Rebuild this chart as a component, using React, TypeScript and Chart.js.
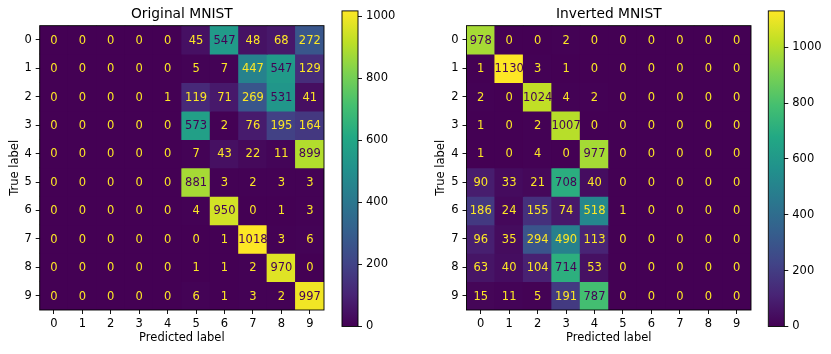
import React, { useEffect, useRef } from 'react';
import { Chart, registerables } from 'chart.js';

Chart.register(...registerables);

// ---------------- data ----------------
const CLASS_LABELS = ['0', '1', '2', '3', '4', '5', '6', '7', '8', '9'];

const ORIGINAL_COUNTS: number[][] = [
  [0, 0, 0, 0, 0, 45, 547, 48, 68, 272],
  [0, 0, 0, 0, 0, 5, 7, 447, 547, 129],
  [0, 0, 0, 0, 1, 119, 71, 269, 531, 41],
  [0, 0, 0, 0, 0, 573, 2, 76, 195, 164],
  [0, 0, 0, 0, 0, 7, 43, 22, 11, 899],
  [0, 0, 0, 0, 0, 881, 3, 2, 3, 3],
  [0, 0, 0, 0, 0, 4, 950, 0, 1, 3],
  [0, 0, 0, 0, 0, 0, 1, 1018, 3, 6],
  [0, 0, 0, 0, 0, 1, 1, 2, 970, 0],
  [0, 0, 0, 0, 0, 6, 1, 3, 2, 997],
];

const INVERTED_COUNTS: number[][] = [
  [978, 0, 0, 2, 0, 0, 0, 0, 0, 0],
  [1, 1130, 3, 1, 0, 0, 0, 0, 0, 0],
  [2, 0, 1024, 4, 2, 0, 0, 0, 0, 0],
  [1, 0, 2, 1007, 0, 0, 0, 0, 0, 0],
  [1, 0, 4, 0, 977, 0, 0, 0, 0, 0],
  [90, 33, 21, 708, 40, 0, 0, 0, 0, 0],
  [186, 24, 155, 74, 518, 1, 0, 0, 0, 0],
  [96, 35, 294, 490, 113, 0, 0, 0, 0, 0],
  [63, 40, 104, 714, 53, 0, 0, 0, 0, 0],
  [15, 11, 5, 191, 787, 0, 0, 0, 0, 0],
];

const COLORBAR_TICKS = [0, 200, 400, 600, 800, 1000];

// ---------------- style helpers ----------------
const FONT = 'DejaVu Sans';
const TICK_SIZE = 11.5;
const TITLE_SIZE = 13.8;
const VIRIDIS_STOPS = [
  '#440154', '#482475', '#414487', '#355f8d', '#2a788e', '#21918c',
  '#22a884', '#44bf70', '#7ad151', '#bddf26', '#fde725',
];

function hexToRgb(h: string) {
  return [parseInt(h.slice(1, 3), 16), parseInt(h.slice(3, 5), 16), parseInt(h.slice(5, 7), 16)];
}

function viridis(t: number): string {
  const x = Math.max(0, Math.min(1, t)) * (VIRIDIS_STOPS.length - 1);
  const i = Math.min(Math.floor(x), VIRIDIS_STOPS.length - 2);
  const f = x - i;
  const a = hexToRgb(VIRIDIS_STOPS[i]);
  const b = hexToRgb(VIRIDIS_STOPS[i + 1]);
  const c = a.map((v, k) => Math.round(v + (b[k] - v) * f));
  return `rgb(${c[0]},${c[1]},${c[2]})`;
}

const LINE_W = 0.92;

const tickGrid = {
  display: true,
  offset: false,
  drawOnChartArea: false,
  drawTicks: true,
  tickLength: 4,
  color: '#000',
  lineWidth: LINE_W,
};

// ---------------- heatmap ----------------
type HeatProps = {
  matrix: number[][];
  title: string;
  left: number;
  yAxisWidth: number;
  padRight: number;
};

const CANVAS_H = 354;
const HEAT_W = 330;

function Heatmap({ matrix, title, left, yAxisWidth, padRight }: HeatProps) {
  const ref = useRef<HTMLCanvasElement | null>(null);
  useEffect(() => {
    if (!ref.current) return;
    const all = matrix.flat();
    const vmax = Math.max(...all);
    const vmin = Math.min(...all);
    const thresh = (vmax + vmin) / 2;
    const datasets = matrix.map((row, r) => ({
      data: row.map(() => [r, r + 1]),
      backgroundColor: row.map((v) => viridis((v - vmin) / (vmax - vmin))),
      borderWidth: 0,
      grouped: false,
      barPercentage: 1,
      categoryPercentage: 1,
      inflateAmount: 0.5,
    }));

    const annotate = {
      id: 'annotate',
      afterDatasetsDraw(chart: any) {
        const ctx = chart.ctx;
        const xs = chart.scales.x;
        const ys = chart.scales.y;
        ctx.save();
        ctx.font = `${TICK_SIZE}px "${FONT}"`;
        ctx.textAlign = 'center';
        ctx.textBaseline = 'middle';
        matrix.forEach((row, r) =>
          row.forEach((v, c) => {
            ctx.fillStyle = v < thresh ? viridis(1) : viridis(0);
            ctx.fillText(String(v), xs.getPixelForValue(c), ys.getPixelForValue(r + 0.5) + 0.8);
          })
        );
        const a = chart.chartArea;
        ctx.strokeStyle = '#000';
        ctx.lineWidth = LINE_W;
        ctx.strokeRect(a.left, a.top, a.right - a.left, a.bottom - a.top);
        ctx.restore();
      },
    };

    const chart = new Chart(ref.current, {
      type: 'bar',
      data: { labels: CLASS_LABELS, datasets: datasets as any },
      options: {
        animation: false,
        responsive: false,
        events: [],
        layout: { padding: { left: 0, top: 0, right: padRight, bottom: 0 } },
        plugins: {
          legend: { display: false },
          tooltip: { enabled: false },
          title: {
            display: true,
            text: title,
            fullSize: false,
            color: '#000',
            font: { family: FONT, size: TITLE_SIZE, weight: 'normal' },
            padding: { top: 5.9, bottom: 3.2 },
          },
        },
        scales: {
          x: {
            type: 'category',
            offset: true,
            grid: tickGrid as any,
            border: { display: false },
            ticks: {
              color: '#000',
              font: { family: FONT, size: TICK_SIZE },
              padding: 3,
              maxRotation: 0,
              autoSkip: false,
            },
            title: {
              display: true,
              text: 'Predicted label',
              color: '#000',
              font: { family: FONT, size: TICK_SIZE },
              padding: { top: 0, bottom: 9.2 },
            },
            afterFit: (s: any) => {
              s.height = CANVAS_H - 310;
            },
          },
          y: {
            type: 'linear',
            min: 0,
            max: CLASS_LABELS.length,
            reverse: true,
            afterBuildTicks: (s: any) => {
              s.ticks = CLASS_LABELS.map((_, i) => ({ value: i + 0.5 }));
            },
            grid: tickGrid as any,
            border: { display: false },
            ticks: {
              color: '#000',
              font: { family: FONT, size: TICK_SIZE },
              padding: 4,
              autoSkip: false,
              callback: (v: any) => CLASS_LABELS[Math.floor(Number(v))],
            },
            title: {
              display: true,
              text: 'True label',
              color: '#000',
              font: { family: FONT, size: TICK_SIZE },
              padding: { top: 7.7, bottom: 0 },
            },
            afterFit: (s: any) => {
              s.width = yAxisWidth;
            },
          },
        },
      } as any,
      plugins: [annotate],
    });
    return () => chart.destroy();
  }, [matrix, title, yAxisWidth, padRight]);

  return (
    <canvas
      ref={ref}
      width={HEAT_W}
      height={CANVAS_H}
      style={{ position: 'absolute', left, top: 0, width: HEAT_W, height: CANVAS_H }}
    />
  );
}

// ---------------- colorbar ----------------
type BarProps = {
  vmax: number;
  left: number;
  width: number;
  padLeft: number;
  axisWidth: number;
};

function Colorbar({ vmax, left, width, padLeft, axisWidth }: BarProps) {
  const ref = useRef<HTMLCanvasElement | null>(null);
  useEffect(() => {
    if (!ref.current) return;
    const frame = {
      id: 'frame',
      afterDatasetsDraw(chart: any) {
        const ctx = chart.ctx;
        const a = chart.chartArea;
        ctx.save();
        ctx.strokeStyle = '#000';
        ctx.lineWidth = LINE_W;
        ctx.strokeRect(a.left, a.top, a.right - a.left, a.bottom - a.top);
        ctx.restore();
      },
    };
    const chart = new Chart(ref.current, {
      type: 'bar',
      data: {
        labels: [''],
        datasets: [
          {
            data: [[0, vmax]] as any,
            borderWidth: 0,
            barPercentage: 1,
            categoryPercentage: 1,
            inflateAmount: 0,
            backgroundColor: (c: any) => {
              const ch = c.chart;
              const ys = ch.scales.y;
              if (!ch.chartArea || !ys) return viridis(0.5);
              const g = ch.ctx.createLinearGradient(0, ys.getPixelForValue(0), 0, ys.getPixelForValue(vmax));
              VIRIDIS_STOPS.forEach((col, i) => g.addColorStop(i / (VIRIDIS_STOPS.length - 1), col));
              return g;
            },
          },
        ],
      },
      options: {
        animation: false,
        responsive: false,
        events: [],
        layout: { padding: { left: padLeft, top: 9.3, right: 0, bottom: CANVAS_H - 326.5 } },
        plugins: { legend: { display: false }, tooltip: { enabled: false } },
        scales: {
          x: { display: false, offset: true },
          y: {
            type: 'linear',
            position: 'right',
            min: 0,
            max: vmax,
            afterBuildTicks: (s: any) => {
              s.ticks = COLORBAR_TICKS.map((value) => ({ value }));
            },
            grid: tickGrid as any,
            border: { display: false },
            ticks: {
              color: '#000',
              font: { family: FONT, size: TICK_SIZE },
              padding: 4,
              autoSkip: false,
              callback: (v: any) => String(v),
            },
            afterFit: (s: any) => {
              s.width = axisWidth;
            },
          },
        },
      } as any,
      plugins: [frame],
    });
    return () => chart.destroy();
  }, [vmax, padLeft, axisWidth]);

  return (
    <canvas
      ref={ref}
      width={width}
      height={CANVAS_H}
      style={{ position: 'absolute', left, top: 0, width, height: CANVAS_H }}
    />
  );
}

export default function App() {
  const origMax = Math.max(...ORIGINAL_COUNTS.flat());
  const invMax = Math.max(...INVERTED_COUNTS.flat());
  return (
    <div
      style={{
        position: 'absolute',
        left: 0,
        top: 0,
        width: 831,
        height: CANVAS_H,
        background: '#fff',
        overflow: 'hidden',
      }}
    >
      <Heatmap matrix={ORIGINAL_COUNTS} title="Original MNIST" left={0} yAxisWidth={39.7} padRight={HEAT_W - 324} />
      <Colorbar vmax={origMax} left={330} width={100} padLeft={12} axisWidth={72} />
      <Heatmap matrix={INVERTED_COUNTS} title="Inverted MNIST" left={426} yAxisWidth={40.5} padRight={HEAT_W - 325} />
      <Colorbar vmax={invMax} left={756} width={75} padLeft={12.3} axisWidth={46.7} />
    </div>
  );
}
